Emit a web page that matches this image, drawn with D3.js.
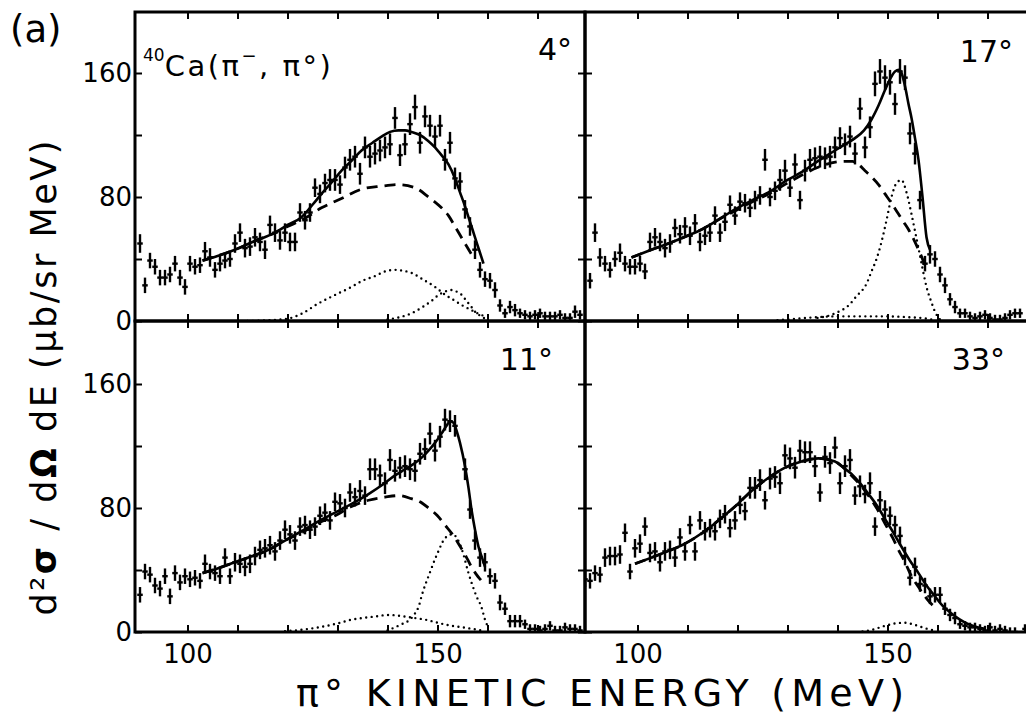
<!DOCTYPE html>
<html><head><meta charset="utf-8">
<script src="https://cdn.jsdelivr.net/npm/d3@7"></script>
<style>
body{margin:0;background:#fff}
svg{display:block}
text{font-family:'DejaVu Sans',sans-serif;fill:#000}
</style>
</head><body>
<svg id="c" width="1026" height="722"></svg>
<script>
// ---- DATA ----
const energies = [89.5,90.5,91.5,92.5,93.5,94.5,95.5,96.5,97.5,98.5,
 99.5,100.5,101.5,102.5,103.5,104.5,105.5,106.5,107.5,108.5,
 109.5,110.5,111.5,112.5,113.5,114.5,115.5,116.5,117.5,118.5,
 119.5,120.5,121.5,122.5,123.5,124.5,125.5,126.5,127.5,128.5,
 129.5,130.5,131.5,132.5,133.5,134.5,135.5,136.5,137.5,138.5,
 139.5,140.5,141.5,142.5,143.5,144.5,145.5,146.5,147.5,148.5,
 149.5,150.5,151.5,152.5,153.5,154.5,155.5,156.5,157.5,158.5,
 159.5,160.5,161.5,162.5,163.5,164.5,165.5,166.5,167.5,168.5,
 169.5,170.5,171.5,172.5,173.5,174.5,175.5,176.5,177.5,178.5];

const val4 = [null,50,23,39,35,28,28,30,37,28,22, 37,35,36,45,41,33,37,39,40,50, 57,47,48,54,51,46,62,57,52,57,
 51,51,70,65,70,86,82,89,91,91, 88,99,104,106,95,112,106,108,110,112, 114,131,107,114,127,138,115,132,126,119,
 126,104,115,92,90,72,61,46,33,27, 26,20,10,5,9,7,5,4,3,4, 5,3,3,3,4,2,2,6,4];
const err4 = [null,6,5,5,5,5,5,5,5,5,5, 5,5,5,6,6,5,5,5,5,6, 6,6,6,6,6,6,6,6,6,6, 6,6,6,6,6,6,6,6,7,7,
 6,7,7,7,7,7,7,7,7,7, 7,7,7,7,7,8,7,7,7,7, 7,7,7,7,6,6,6,6,5,5, 5,5,4,3,4,4,3,3,3,3, 3,3,3,3,3,3,3,4,3];

const val17 = [null,26,57,41,37,33,40,44,37,35,35, 37,32,51,54,51,47,50,60,56,61, 55,63,51,55,57,68,57,64,75,68,
 77,76,73,78,81,104,80,84,91,97, 86,101,78,97,104,105,106,105,106,112, 118,114,119,108,137,112,125,153,161,157,
 154,140,161,157,121,108,78,37,43,40, 30,23,14,9,5,5,3,2,3,4, 2,1,1,2,4,5,5,null,null];
const err17 = [null,5,6,6,5,5,5,6,5,5,5, 5,5,6,6,6,6,6,6,6,6, 6,6,6,6,6,6,6,6,6,6, 6,6,6,6,6,7,6,6,7,7,
 6,7,6,7,7,7,7,7,7,7, 7,7,7,7,7,7,7,8,8,8, 8,7,8,8,7,7,6,5,6,5, 5,5,4,4,3,3,3,3,3,3, 3,3,3,3,3,3,3,null,null];

const val11 = [null,24,39,37,30,28,36,23,38,32,36, 34,35,33,44,39,38,36,48,36,45, 44,42,44,49,53,54,56,52,59,66,
 63,59,68,69,66,68,75,77,72,84, 83,80,90,87,91,88,105,105,101,96, 111,104,106,107,105,104,115,118,128,117,
 126,137,136,133,null,105,79,59,48,45, 36,33,19,15,7,7,7,5,2,2, 1,2,4,1,1,3,2,2,1];
const err11 = [null,5,5,5,5,5,5,5,5,5,5, 5,5,5,6,5,5,5,6,5,6, 6,6,6,6,6,6,6,6,6,6, 6,6,6,6,6,6,6,6,6,6,
 6,6,6,6,7,6,7,7,7,7, 7,7,7,7,7,7,7,7,7,7, 7,7,7,7,null,7,6,6,6,6, 5,5,5,4,4,4,4,3,3,3, 3,3,3,3,3,3,3,3,3];

const val33 = [34,33,38,37,48,49,49,50,64,39, 54,57,68,51,52,45,52,53,48,61, 52,69,52,72,65,67,65,73,76,67,
 72,82,78,93,93,98,85,99,100,96, 114,112,106,117,116,116,107,90,113,109, 119,96,107,111,88,94,89,96,68,85,
 79,75,69,62,49,35,42,31,30,23, 24,24,15,11,9,5,4,3,3,2, 1,3,1,2,1,0,0,null,2,null];
const err33 = [5,5,5,5,6,6,6,6,6,5, 6,6,6,6,6,6,6,6,6,6, 6,6,6,6,6,6,6,6,6,6, 6,6,6,7,7,7,6,7,7,7,
 7,7,7,7,7,7,7,6,7,7, 7,7,7,7,6,7,6,7,6,6, 6,6,6,6,6,5,6,5,5,5, 5,5,4,4,4,3,3,3,3,3, 3,3,3,3,3,3,3,null,3,null];

// fitted curves [energy, value]
const fit4 = [[103,39],[106,42],[109.5,46],[113,51],[117.5,57],[120,62],[122.8,67],[125,75],[126.8,82],[129,90],[130.8,97],[133,104],[134.8,110],[137,115],[138.8,119],[140.5,122],[142.2,123],[143.5,123],[144.8,122],[146.5,120],[148.2,116],[149.5,112],[150.8,107],[152.2,101],[153.5,92],[154.5,83],[155.5,74],[156.5,64],[157.5,54],[158.4,45],[159.2,37]];
const bg4 = [[103,39],[106,42],[109.5,46],[113,51],[117.5,57],[120,61],[122.8,65],[126.8,73],[130.8,79],[134.8,85],[138.8,87],[142.2,88],[145.5,86],[148.2,80],[150.8,73],[152.2,68],[153.5,61],[155.5,50],[157,42]];
const dotA4 = [[112,0],[116,0.5],[120,1.5],[123,5],[126,11],[129,16],[132.8,22],[135,26],[137.5,29],[139.5,32],[141.5,33],[143,32.5],[144.8,31],[147,27],[149.5,22],[151.5,17],[153.5,13],[155,10],[156.8,7],[158,5],[159.5,3]];
const dotB4 = [[140,1],[142.5,2.5],[144.8,5],[147,9],[148.8,13],[150.3,17],[151.5,19],[152.8,20],[153.8,19],[154.8,17],[155.8,13],[156.8,9],[157.8,5],[158.8,3],[159.5,1.5]];

const fit17 = [[98.8,41],[102,45],[106.2,50],[110,55],[112.8,59],[116,65],[119.5,72],[123,78],[126.2,83],[130,91],[132.8,96],[136,103],[139.5,110],[141.5,114],[143.5,118],[145.3,123],[146.8,130],[148.2,139],[149.5,149],[150.5,156],[151.5,161],[152.3,162],[152.8,160],[153.6,150],[154.2,140],[154.8,131],[155.5,118],[156.2,104],[157,80],[157.8,54],[158.5,46]];
const bg17 = [[98.8,41],[102,45],[106.2,50],[110,55],[112.8,59],[116,65],[119.5,71],[123,77],[126.2,82],[130,89],[132.8,94],[136,99],[138.8,102],[141.5,103],[143,103],[144.2,101],[145.5,97],[146.8,93],[148.2,88],[149.5,82],[150.8,76],[152.2,69],[153.2,64],[154.2,59],[155.2,53],[156.2,46],[157,40],[157.5,35]];
const dotA17 = [[136,2],[138.8,4],[140.2,6],[142.2,10],[143.8,16],[145.8,24],[146.8,32],[147.8,40],[148.8,51],[149.8,65],[150.8,80],[151.8,89],[152.8,91],[153.8,83],[154.8,69],[155.5,58],[156.2,47],[157,34],[157.8,22],[158.8,12],[159.5,6],[160.5,1]];
const dotB17 = [[128,0.5],[132,1.5],[136,2.5],[140,3],[145,3],[150,3],[154,2.5],[158,1.5],[159.5,0.5]];

const fit11 = [[103,38],[106,41],[109.5,45],[113,49],[116.2,53],[119.5,59],[122.8,65],[126,71],[129.5,77],[133,83],[136.2,89],[139,95],[141.5,101],[143.5,105],[145.5,109],[147,113],[148.2,117],[149.5,122],[150.8,128],[151.8,133],[152.5,136],[153.2,135],[153.8,130],[154.5,122],[155.5,107],[156.2,93],[156.8,79],[157.5,66],[158.2,55],[159,47],[159.5,42]];
const bg11 = [[103,38],[106,41],[109.5,45],[113,49],[116.2,53],[119.5,59],[122.8,64],[126,70],[129.5,75],[132.8,81],[136.2,85],[139.5,87],[142.2,88],[144.8,86],[146.5,84],[148.2,80],[150,75],[151.5,69],[153,63],[154.2,57],[155.5,50],[156.8,42],[157.8,37],[158.8,33],[159.5,30]];
const dotA11 = [[140,1],[142.8,5],[144.5,8],[145.5,12],[146.3,17],[146.8,23],[147.5,30],[148.2,36],[149.5,47],[150.3,53],[151,58],[152,62],[153,63],[154,60],[155,52],[156.2,38],[157,30],[157.8,23],[158.8,16],[159.5,8],[160,4]];
const dotB11 = [[119.5,0.5],[123,1.5],[126.2,3],[130,5.5],[132.8,8],[135,9],[137.5,10],[140.2,11],[143.5,10],[145.5,9],[147.5,8],[150,6],[152.8,4],[155,3],[157,2],[158.8,1]];

const fit33 = [[99.5,44],[102.8,48],[106,52],[109.5,57],[113,64],[116.2,72],[119.5,81],[122.8,91],[126,99],[129.5,106],[132.8,110],[136.2,112],[139.5,110],[141.2,106],[142.8,102],[144.5,96],[146.2,89],[148,81],[149.5,73],[151.2,64],[152.8,55],[154.5,46],[156.2,38],[157.8,30],[159.5,23],[161,17],[162.8,12],[164.5,8],[166.2,5],[168,3],[169.5,2]];
const bg33 = [[99.5,44],[102.8,48],[106,52],[109.5,57],[113,64],[116.2,72],[119.5,81],[122.8,91],[126,99],[129.5,106],[132.8,110],[136.2,112],[139.5,110],[141.2,106],[142.8,101],[144.5,95],[146.2,88],[148,79],[149.5,70],[151,61],[152.2,53],[153.5,45],[154.8,36],[156.2,29],[157.5,23],[158.5,19],[159.5,16]];
const dotA33 = [[145,0.3],[147,1.5],[149.5,4],[151.5,5.5],[153.5,6],[155,5],[156.5,3.5],[158,2],[159.5,1]];

const angleLabels = ["4°","17°","11°","33°"];
const xTickValues = [100,110,120,130,140,150,160,170];
const xTickLabels = [100,150];
const yTickValues = [0,40,80,120,160];
const yTickLabels = [0,80,160];

// ---- LAYOUT ----
const svg = d3.select("#c");
const W = 450;
const panels = [
  {label:angleLabels[0], vals:val4, errs:err4, fit:fit4, bg:bg4, dots:[dotA4,dotB4], x0:135, top:12, bottom:321, col:0,row:0, lx:572, ly:60},
  {label:angleLabels[1], vals:val17, errs:err17, fit:fit17, bg:bg17, dots:[dotA17,dotB17], x0:585, top:12, bottom:321, col:1,row:0, lx:1013, ly:62},
  {label:angleLabels[2], vals:val11, errs:err11, fit:fit11, bg:bg11, dots:[dotA11,dotB11], x0:135, top:321, bottom:632, col:0,row:1, lx:553, ly:370},
  {label:angleLabels[3], vals:val33, errs:err33, fit:fit33, bg:bg33, dots:[dotA33], x0:585, top:321, bottom:632, col:1,row:1, lx:1005, ly:370}
];

panels.forEach((p,pi)=>{
  const x = d3.scaleLinear().domain([89.5,179.5]).range([p.x0, p.x0+W]);
  const y = d3.scaleLinear().domain([0,200]).range([p.bottom, p.bottom-310]);
  const g = svg.append("g");
  const cid = "clip"+pi;
  svg.append("clipPath").attr("id",cid).append("rect")
    .attr("x",p.x0).attr("y",p.top).attr("width",W).attr("height",p.bottom-p.top);
  const pg = g.append("g").attr("clip-path",`url(#${cid})`);

  const line = d3.line().x(d=>x(d[0])).y(d=>y(d[1])).curve(d3.curveMonotoneX);
  p.dots.forEach(dc=>{
    pg.append("path").attr("d",line(dc)).attr("fill","none").attr("stroke","#000")
      .attr("stroke-width",2.4).attr("stroke-linecap","round").attr("stroke-dasharray","0,5.5");
  });
  pg.append("path").attr("d",line(p.bg)).attr("fill","none").attr("stroke","#000")
    .attr("stroke-width",2.8).attr("stroke-dasharray","11,7");
  pg.append("path").attr("d",line(p.fit)).attr("fill","none").attr("stroke","#000")
    .attr("stroke-width",2.6);

  const pts = energies.map((e,i)=>({e, v:p.vals[i], s:p.errs[i]})).filter(d=>d.v!=null);
  const pt = pg.selectAll("g.pt").data(pts).join("g");
  pt.append("line").attr("x1",d=>x(d.e)).attr("x2",d=>x(d.e))
    .attr("y1",d=>y(d.v-d.s)).attr("y2",d=>y(d.v+d.s))
    .attr("stroke","#000").attr("stroke-width",2.4);
  pt.append("line").attr("x1",d=>x(d.e-0.55)).attr("x2",d=>x(d.e+0.55))
    .attr("y1",d=>y(d.v)).attr("y2",d=>y(d.v))
    .attr("stroke","#000").attr("stroke-width",2.4);

  const styleAxis = sel=>{
    sel.select(".domain").remove();
    sel.selectAll(".tick line").attr("stroke","#000").attr("stroke-width",2);
    sel.selectAll("text").attr("font-family","'DejaVu Sans',sans-serif").attr("font-size",26).attr("fill","#000");
  };
  g.append("g").attr("transform",`translate(0,${p.bottom})`)
    .call(d3.axisBottom(x).tickValues(xTickValues).tickSize(-7).tickPadding(13)
      .tickFormat(d=> (p.row===1 && xTickLabels.includes(d)) ? d : ""))
    .call(styleAxis);
  g.append("g").attr("transform",`translate(0,${p.top})`)
    .call(d3.axisTop(x).tickValues(xTickValues).tickSize(-7).tickFormat(""))
    .call(styleAxis);
  g.append("g").attr("transform",`translate(${p.x0},0)`)
    .call(d3.axisLeft(y).tickValues(yTickValues).tickSize(-7).tickPadding(3)
      .tickFormat(d=> (p.col===0 && yTickLabels.includes(d)) ? d : ""))
    .call(styleAxis);
  g.append("g").attr("transform",`translate(${p.x0+W},0)`)
    .call(d3.axisRight(y).tickValues(yTickValues).tickSize(-7).tickFormat(""))
    .call(styleAxis);

  g.append("rect").attr("x",p.x0).attr("y",p.top).attr("width",W).attr("height",p.bottom-p.top)
    .attr("fill","none").attr("stroke","#000").attr("stroke-width",3);

  svg.append("text").attr("x",p.lx).attr("y",p.ly).attr("text-anchor","end")
    .attr("font-size",30).text(p.label);
});

svg.append("text").attr("x",10).attr("y",42).attr("font-size",37).text("(a)");
const r = svg.append("text").attr("x",143).attr("y",76).attr("font-size",29).attr("letter-spacing",2.5);
r.append("tspan").attr("font-size",17).attr("letter-spacing",0).attr("dy",-15).text("40");
r.append("tspan").attr("dy",15).text("Ca(π");
r.append("tspan").attr("font-size",18).attr("dy",-14).text("−");
r.append("tspan").attr("dy",14).text(", π°)");

svg.append("text").attr("transform","translate(56,378) rotate(-90)").attr("text-anchor","middle")
  .attr("font-size",35).attr("textLength",475).attr("lengthAdjust","spacing")
  .html('d²<tspan font-weight="bold">σ</tspan> / d<tspan font-weight="bold">Ω</tspan> dE (μb/sr MeV)');
svg.append("text").attr("x",600).attr("y",706).attr("text-anchor","middle")
  .attr("font-size",38).attr("textLength",608).attr("lengthAdjust","spacing")
  .text("π° KINETIC ENERGY (MeV)");
</script>
</body></html>
